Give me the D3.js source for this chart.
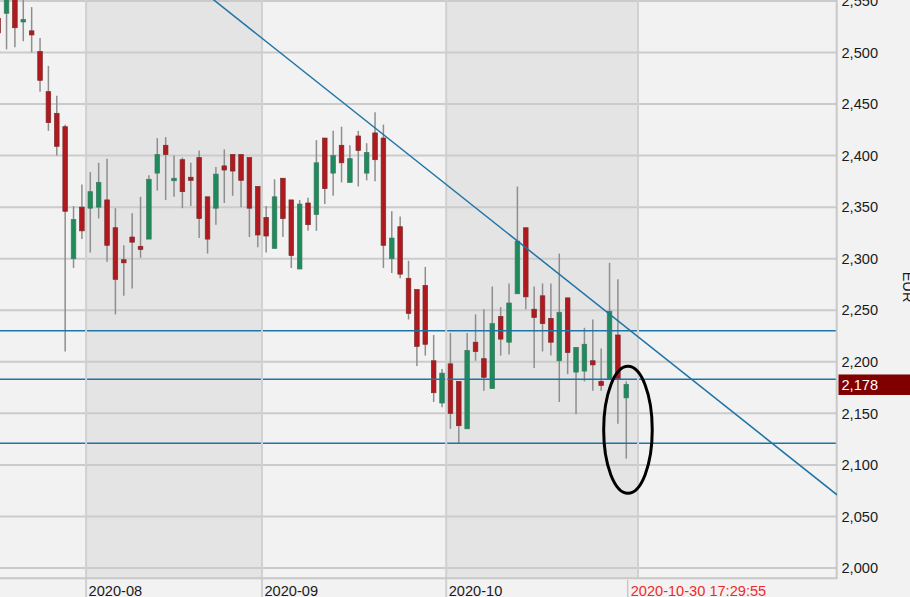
<!DOCTYPE html>
<html>
<head>
<meta charset="utf-8">
<script src="https://cdn.jsdelivr.net/npm/d3@7/dist/d3.min.js"></script>
<style>
  html, body { margin: 0; padding: 0; background: #f2f2f2; }
  svg { display: block; }
  text { font-family: "Liberation Sans", Arial, sans-serif; }
</style>
</head>
<body>
<script>
// ---------------- data ----------------
const dates = [
  "2020-07-17","2020-07-20","2020-07-21","2020-07-22","2020-07-23","2020-07-24","2020-07-27","2020-07-28","2020-07-29","2020-07-30","2020-07-31",
  "2020-08-03","2020-08-04","2020-08-05","2020-08-06","2020-08-07","2020-08-10","2020-08-11","2020-08-12","2020-08-13","2020-08-14",
  "2020-08-17","2020-08-18","2020-08-19","2020-08-20","2020-08-21","2020-08-24","2020-08-25","2020-08-26","2020-08-27","2020-08-28","2020-08-31",
  "2020-09-01","2020-09-02","2020-09-03","2020-09-04","2020-09-07","2020-09-08","2020-09-09","2020-09-10","2020-09-11",
  "2020-09-14","2020-09-15","2020-09-16","2020-09-17","2020-09-18","2020-09-21","2020-09-22","2020-09-23","2020-09-24","2020-09-25",
  "2020-09-28","2020-09-29","2020-09-30",
  "2020-10-01","2020-10-02","2020-10-05","2020-10-06","2020-10-07","2020-10-08","2020-10-09","2020-10-12","2020-10-13","2020-10-14",
  "2020-10-15","2020-10-16","2020-10-19","2020-10-20","2020-10-21","2020-10-22","2020-10-23","2020-10-26","2020-10-27","2020-10-28",
  "2020-10-29","2020-10-30"
];
const opens = [
  2.533,2.538,2.553,2.530,2.521,2.501,2.462,2.441,2.428,2.300,2.350,
  2.349,2.350,2.357,2.330,2.299,2.321,2.312,2.319,2.383,2.410,
  2.376,2.396,2.379,2.398,2.360,2.349,2.390,2.401,2.401,2.398,2.370,
  2.340,2.310,2.378,2.357,2.290,2.354,2.343,2.417,2.383,
  2.410,2.374,2.419,2.383,2.422,2.417,2.300,2.331,2.281,2.270,
  2.274,2.201,2.160,
  2.198,2.181,2.135,2.219,2.203,2.174,2.244,2.219,2.266,2.330,
  2.251,2.264,2.242,2.201,2.262,2.190,2.191,2.201,2.181,2.183,
  2.226,2.165
];
const highs = [
  2.539,2.561,2.561,2.556,2.544,2.514,2.487,2.458,2.430,2.351,2.372,
  2.384,2.393,2.397,2.349,2.313,2.344,2.360,2.381,2.417,2.418,
  2.400,2.398,2.393,2.405,2.360,2.389,2.406,2.401,2.401,2.398,2.370,
  2.351,2.377,2.378,2.357,2.357,2.359,2.415,2.417,2.424,
  2.428,2.410,2.424,2.412,2.442,2.430,2.346,2.341,2.298,2.270,
  2.292,2.226,2.193,
  2.228,2.181,2.228,2.246,2.251,2.273,2.253,2.276,2.370,2.330,
  2.273,2.276,2.276,2.305,2.262,2.214,2.233,2.241,2.213,2.296,
  2.280,2.181
];
const lows = [
  2.512,2.503,2.505,2.511,2.500,2.462,2.424,2.400,2.210,2.291,2.319,
  2.306,2.339,2.297,2.246,2.264,2.271,2.301,2.319,2.366,2.357,
  2.360,2.349,2.351,2.320,2.305,2.333,2.354,2.361,2.350,2.321,2.311,
  2.306,2.310,2.321,2.291,2.290,2.327,2.327,2.353,2.361,
  2.374,2.374,2.370,2.376,2.375,2.291,2.286,2.281,2.241,2.196,
  2.206,2.161,2.156,
  2.135,2.121,2.135,2.201,2.172,2.174,2.206,2.207,2.266,2.251,
  2.194,2.210,2.206,2.161,2.188,2.149,2.181,2.172,2.172,2.183,
  2.140,2.106
];
const closes = [
  2.519,2.554,2.524,2.532,2.517,2.473,2.432,2.409,2.346,2.338,2.327,
  2.365,2.374,2.313,2.280,2.296,2.316,2.309,2.377,2.401,2.401,
  2.378,2.365,2.376,2.339,2.319,2.382,2.386,2.385,2.376,2.349,2.323,
  2.322,2.360,2.339,2.303,2.353,2.333,2.393,2.368,2.400,
  2.393,2.397,2.405,2.403,2.396,2.313,2.320,2.285,2.247,2.215,
  2.217,2.170,2.189,
  2.150,2.138,2.211,2.210,2.185,2.237,2.222,2.257,2.317,2.263,
  2.243,2.237,2.219,2.248,2.209,2.214,2.217,2.197,2.177,2.249,
  2.183,2.178
];
const yTicks = [2.00,2.05,2.10,2.15,2.20,2.25,2.30,2.35,2.40,2.45,2.50,2.55];
const monthLabels = ["2020-08","2020-09","2020-10"];
const monthFirstDays = ["2020-08-03","2020-09-01","2020-10-01"];
const shadedMonths = ["2020-08","2020-10"];
const supportLevels = [2.230, 2.183, 2.121];
// trend line anchors: [session index, price]
const trendStart = [24.5, 2.559];
const trendEnd = [100.16, 2.071];
const lastPrice = 2.178;
const lastTimestamp = "2020-10-30 17:29:55";
const currency = "EUR";

// ---------------- layout ----------------
const W = 910, H = 597;
const plotW = 837, plotH = 578;

const svg = d3.select("body").append("svg")
  .attr("width", W).attr("height", H);

svg.append("rect").attr("width", W).attr("height", H).attr("fill", "#f2f2f2");

const x = d3.scaleLinear().domain([0.22, 100.16]).range([0, plotW]);
const y = d3.scaleLinear().domain([1.9903, 2.5509]).range([plotH, 0]);

const loc = d3.formatLocale({decimal: ",", thousands: ".", grouping: [3], currency: ["", "€"]});
const fmt = loc.format(".3f");

svg.append("defs").append("clipPath").attr("id", "plotclip")
  .append("rect").attr("x", 0).attr("y", 0).attr("width", plotW).attr("height", plotH);

const plot = svg.append("g").attr("clip-path", "url(#plotclip)");

// month boundaries (in session index space)
const idxOf = d => dates.indexOf(d);
const boundaries = monthFirstDays.map(d => idxOf(d) - 0.5);
const nextBoundary = dates.length + 0.4; // start of November (next session window)
const allBoundaries = boundaries.concat([nextBoundary]);

// shaded month bands
monthLabels.forEach((m, k) => {
  if (shadedMonths.includes(m)) {
    plot.append("rect")
      .attr("x", x(allBoundaries[k]))
      .attr("y", 0)
      .attr("width", x(allBoundaries[k + 1]) - x(allBoundaries[k]))
      .attr("height", plotH)
      .attr("fill", "#e4e4e4");
  }
});

// horizontal grid
plot.selectAll("line.hgrid").data(yTicks).enter().append("line")
  .attr("x1", 0).attr("x2", plotW)
  .attr("y1", d => y(d)).attr("y2", d => y(d))
  .attr("stroke", "#cbcbcb").attr("stroke-width", 2);

// vertical month lines
svg.selectAll("line.vgrid").data(allBoundaries).enter().append("line")
  .attr("x1", d => x(d)).attr("x2", d => x(d))
  .attr("y1", 0).attr("y2", (d, i) => i < boundaries.length ? H : plotH)
  .attr("stroke", "#d0d0d0").attr("stroke-width", 2);

// plot border (right and bottom)
svg.append("line").attr("x1", plotW - 0.3).attr("x2", plotW - 0.3).attr("y1", 0).attr("y2", plotH + 1)
  .attr("stroke", "#c8c8c8").attr("stroke-width", 2);
svg.append("line").attr("x1", 0).attr("x2", plotW).attr("y1", plotH + 0.3).attr("y2", plotH + 0.3)
  .attr("stroke", "#c8c8c8").attr("stroke-width", 2);

// candles
const candles = dates.map((d, i) => ({d, i, o: opens[i], h: highs[i], l: lows[i], c: closes[i]}));
const bodyW = 4.6;
const cg = plot.append("g");
cg.selectAll("line.wick").data(candles).enter().append("line")
  .attr("x1", d => x(d.i)).attr("x2", d => x(d.i))
  .attr("y1", d => y(d.h)).attr("y2", d => y(d.l))
  .attr("stroke", "#8e8e8e").attr("stroke-width", 1.5);
cg.selectAll("rect.body").data(candles).enter().append("rect")
  .attr("x", d => x(d.i) - bodyW / 2)
  .attr("width", bodyW)
  .attr("y", d => y(Math.max(d.o, d.c)))
  .attr("height", d => Math.max(2.5, Math.abs(y(d.o) - y(d.c))))
  .attr("fill", d => d.c >= d.o ? "#1f8a5c" : "#b0191e")
  .attr("stroke", d => d.c >= d.o ? "#3f7a62" : "#7e2a2a")
  .attr("stroke-width", 0.7);

// support lines
plot.selectAll("line.support").data(supportLevels).enter().append("line")
  .attr("x1", 0).attr("x2", plotW)
  .attr("y1", d => y(d)).attr("y2", d => y(d))
  .attr("stroke", "#1f74a6").attr("stroke-width", 1.5);

// trend line
svg.append("line")
  .attr("x1", x(trendStart[0])).attr("y1", y(trendStart[1]))
  .attr("x2", x(trendEnd[0])).attr("y2", y(trendEnd[1]))
  .attr("stroke", "#1f74a6").attr("stroke-width", 1.5)
  .attr("clip-path", "url(#plotclip)");

// annotation oval around the last session
const ovalCenter = [dates.length - 1 + 0.2, 2.134];
const ovalHalf = [2.9, 0.0616];
svg.append("ellipse")
  .attr("cx", x(ovalCenter[0]))
  .attr("cy", y(ovalCenter[1]))
  .attr("rx", x(ovalCenter[0] + ovalHalf[0]) - x(ovalCenter[0]))
  .attr("ry", y(ovalCenter[1] - ovalHalf[1]) - y(ovalCenter[1]))
  .attr("fill", "none").attr("stroke", "#000").attr("stroke-width", 3);

// y-axis labels (right)
svg.selectAll("text.ylab").data(yTicks).enter().append("text")
  .attr("x", plotW + 4.5).attr("y", d => y(d))
  .attr("dy", "0.36em")
  .attr("font-size", "14.6px").attr("fill", "#1a1a1a")
  .text(d => fmt(d));

// last price box
svg.append("rect")
  .attr("x", plotW + 1.5).attr("y", y(lastPrice) - 10)
  .attr("width", W - plotW).attr("height", 20.5)
  .attr("fill", "#800000");
svg.append("text")
  .attr("x", plotW + 4.5).attr("y", y(lastPrice))
  .attr("dy", "0.36em")
  .attr("font-size", "14.6px").attr("fill", "#ffffff")
  .text(fmt(lastPrice));

// currency label
svg.append("text")
  .attr("transform", `translate(903, ${y(2.2725)}) rotate(90)`)
  .attr("text-anchor", "middle")
  .attr("font-size", "14.6px").attr("fill", "#1a1a1a")
  .text(currency);

// x-axis labels
svg.selectAll("text.xlab").data(monthLabels).enter().append("text")
  .attr("x", (d, i) => x(boundaries[i]) + 2.5)
  .attr("y", 596)
  .attr("font-size", "14.6px").attr("fill", "#1a1a1a")
  .text(d => d);

// last timestamp marker
const lastX = x(dates.length - 1) + 1.4;
svg.append("line").attr("x1", lastX).attr("x2", lastX).attr("y1", plotH + 2).attr("y2", H)
  .attr("stroke", "#c8c8c8").attr("stroke-width", 1.5);
svg.append("text")
  .attr("x", lastX + 3).attr("y", 596)
  .attr("font-size", "14.6px").attr("fill", "#ee2a2a")
  .text(lastTimestamp);
</script>
</body>
</html>
